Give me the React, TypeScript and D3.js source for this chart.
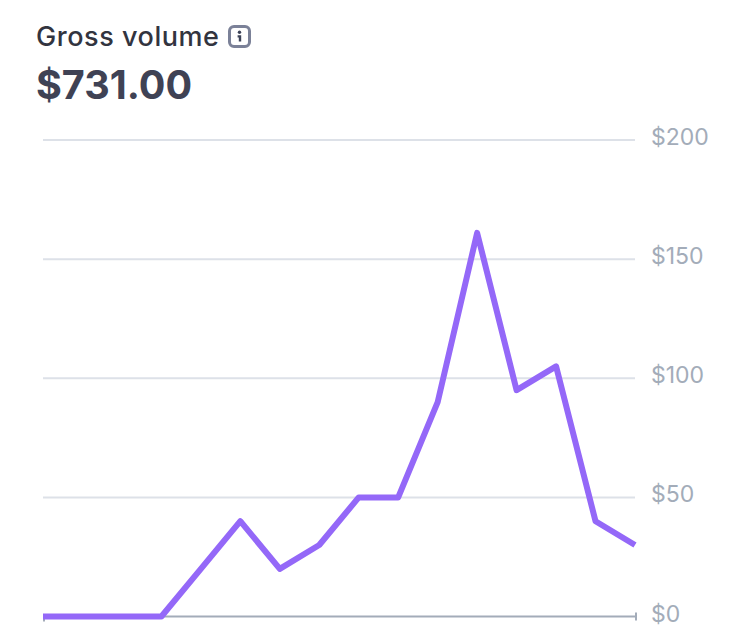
import React from "react";
import * as d3 from "d3";

const days = [0, 1, 2, 3, 4, 5, 6, 7, 8, 9, 10, 11, 12, 13, 14, 15];
const volume = [0, 0, 0, 0, 20, 40, 20, 30, 50, 50, 90, 161, 95, 105, 40, 30];
const yTicks = [0, 50, 100, 150, 200];
const title = "Gross volume";
const total = "$731.00";

const W = 750, H = 632;
const FONT = "Inter, 'Noto Sans', sans-serif";

export default function App() {
  const x = d3.scaleLinear().domain([0, 15]).range([43, 635]);
  const y = d3.scaleLinear().domain([0, 200]).range([616.5, 140]);
  const line = d3.line<number>().x((_, i) => x(days[i])).y((d) => y(d)).curve(d3.curveLinear);
  return (
    <svg width={W} height={H} viewBox={`0 0 ${W} ${H}`} style={{ position: "absolute", left: 0, top: 0, background: "#fff" }} fontFamily={FONT}>
      <text x={36} y={46} fontSize={27} fontWeight={500} letterSpacing={0.55} fill="#32343f">{title}</text>
      <g transform="translate(228,25)" fill="none" stroke="#7b8198" strokeWidth={3}>
        <rect x={1.5} y={1.5} width={20} height={20} rx={4.5} />
        <circle cx={11.5} cy={7.2} r={1.7} fill="#3c4257" stroke="none" />
        <path d="M9.6 11.4 H12 V16.5" stroke="#3c4257" strokeWidth={2.4} />
      </g>
      <text x={36} y={99} fontSize={39.5} fontWeight={700} fill="#3f4254">{total}</text>
      <g>
        {yTicks.filter((t) => t > 0).map((t) => (
          <line key={t} x1={43} x2={635} y1={y(t)} y2={y(t)} stroke="#dde1e8" strokeWidth={2} />
        ))}
        <line x1={43} x2={635} y1={y(0)} y2={y(0)} stroke="#a3acb9" strokeWidth={2} />
        <line x1={44} x2={44} y1={y(0)} y2={y(0) + 5} stroke="#a3acb9" strokeWidth={2} />
        <line x1={636} x2={636} y1={y(0) - 4} y2={y(0) + 4} stroke="#a3acb9" strokeWidth={2} />
      </g>
      <g>
        {yTicks.map((t) => (
          <text key={t} x={651} y={y(t) + 5} fontSize={23} fill="#a3acb9">{`$${t}`}</text>
        ))}
      </g>
      <path d={line(volume) ?? ""} fill="none" stroke="#9468f8" strokeWidth={6} strokeLinejoin="round" />
    </svg>
  );
}
